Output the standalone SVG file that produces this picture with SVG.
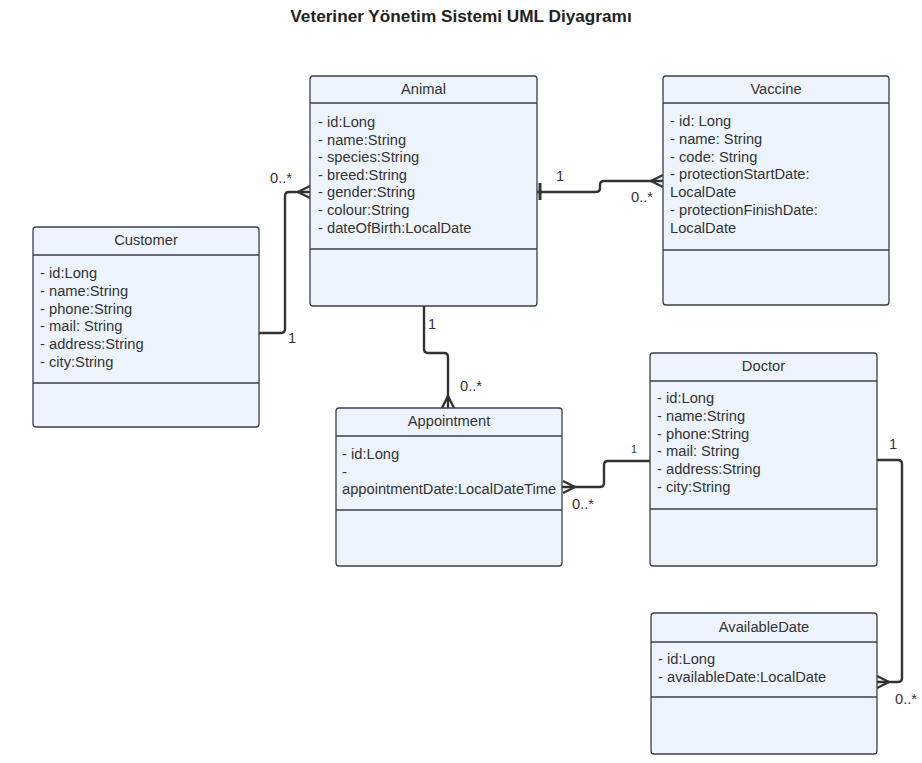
<svg xmlns="http://www.w3.org/2000/svg" width="922" height="763" viewBox="0 0 922 763">
<style>
.box{fill:#EEF4FE;stroke:#3A4049;stroke-width:1.3}
.div{stroke:#3A4049;stroke-width:1.3}
text{font-family:"Liberation Sans",Arial,sans-serif;fill:#333}
.h{font-size:14.7px;text-anchor:middle}
.a{font-size:14.7px}
.t{font-size:17.2px;font-weight:bold;text-anchor:middle;fill:#222}
.c{fill:none;stroke:#333;stroke-width:2.4;stroke-linejoin:round}
.l{font-size:14.7px}
.s{font-size:10.5px}
</style>
<rect width="922" height="763" fill="#fff"/>
<text class="t" x="461" y="22">Veteriner Yönetim Sistemi UML Diyagramı</text>

<g id="connectors">
<path class="c" d="M259,333 H281 Q285,333 285,329 V196 Q285,192 289,192 H310"/>
<path class="c" d="M310,186 L298,192 L310,198"/>
<path class="c" d="M537,192 H596 Q600,192 600,188 V185 Q600,181 604,181 H663"/>
<path class="c" d="M540,183 V200" style="stroke-width:3"/>
<path class="c" d="M663,175 L651,181 L663,187"/>
<path class="c" d="M424,306 V349 Q424,353 428,353 H444 Q448,353 448,357 V408"/>
<path class="c" d="M442,408 L448,396 L454,408"/>
<path class="c" d="M562,487 H600 Q604,487 604,483 V465 Q604,461 608,461 H650"/>
<path class="c" d="M563,481 L575,487 L563,493"/>
<path class="c" d="M877,460 H898 Q902,460 902,464 V678 Q902,682 898,682 H877"/>
<path class="c" d="M877,676 L889,682 L877,688"/>
<text class="l" x="270" y="183">0..*</text>
<text class="l" x="288" y="343">1</text>
<text class="l" x="556" y="181">1</text>
<text class="l" x="631" y="202">0..*</text>
<text class="l" x="428" y="329">1</text>
<text class="l" x="460" y="391">0..*</text>
<text class="s" x="631" y="453">1</text>
<text class="l" x="572" y="509">0..*</text>
<text class="l" x="889" y="449">1</text>
<text class="l" x="895" y="704">0..*</text>
</g>

<g id="animal">
<rect class="box" x="310" y="76" width="227" height="230" rx="3"/>
<line class="div" x1="310" y1="103" x2="537" y2="103"/>
<line class="div" x1="310" y1="249" x2="537" y2="249"/>
<text class="h" x="423.5" y="94">Animal</text>
<text class="a" x="318" y="127">- id:Long</text>
<text class="a" x="318" y="144.6">- name:String</text>
<text class="a" x="318" y="162.2">- species:String</text>
<text class="a" x="318" y="179.8">- breed:String</text>
<text class="a" x="318" y="197.4">- gender:String</text>
<text class="a" x="318" y="215">- colour:String</text>
<text class="a" x="318" y="232.6">- dateOfBirth:LocalDate</text>
</g>

<g id="vaccine">
<rect class="box" x="663" y="76" width="226" height="229" rx="3"/>
<line class="div" x1="663" y1="103" x2="889" y2="103"/>
<line class="div" x1="663" y1="250" x2="889" y2="250"/>
<text class="h" x="776" y="94">Vaccine</text>
<text class="a" x="670" y="126">- id: Long</text>
<text class="a" x="670" y="143.8">- name: String</text>
<text class="a" x="670" y="161.6">- code: String</text>
<text class="a" x="670" y="179.4">- protectionStartDate:</text>
<text class="a" x="670" y="197.2">LocalDate</text>
<text class="a" x="670" y="215">- protectionFinishDate:</text>
<text class="a" x="670" y="232.8">LocalDate</text>
</g>

<g id="customer">
<rect class="box" x="33" y="227" width="226" height="200" rx="3"/>
<line class="div" x1="33" y1="255" x2="259" y2="255"/>
<line class="div" x1="33" y1="383" x2="259" y2="383"/>
<text class="h" x="146" y="245">Customer</text>
<text class="a" x="40" y="278">- id:Long</text>
<text class="a" x="40" y="295.8">- name:String</text>
<text class="a" x="40" y="313.6">- phone:String</text>
<text class="a" x="40" y="331.4">- mail: String</text>
<text class="a" x="40" y="349.2">- address:String</text>
<text class="a" x="40" y="367">- city:String</text>
</g>

<g id="appointment">
<rect class="box" x="336" y="408" width="226" height="158" rx="3"/>
<line class="div" x1="336" y1="436" x2="562" y2="436"/>
<line class="div" x1="336" y1="510" x2="562" y2="510"/>
<text class="h" x="449" y="426">Appointment</text>
<text class="a" x="342" y="459">- id:Long</text>
<text class="a" x="342" y="477">-</text>
<text class="a" x="342" y="494">appointmentDate:LocalDateTime</text>
</g>

<g id="doctor">
<rect class="box" x="650" y="353" width="227" height="213" rx="3"/>
<line class="div" x1="650" y1="381" x2="877" y2="381"/>
<line class="div" x1="650" y1="509" x2="877" y2="509"/>
<text class="h" x="763.5" y="371">Doctor</text>
<text class="a" x="657" y="403">- id:Long</text>
<text class="a" x="657" y="420.8">- name:String</text>
<text class="a" x="657" y="438.6">- phone:String</text>
<text class="a" x="657" y="456.4">- mail: String</text>
<text class="a" x="657" y="474.2">- address:String</text>
<text class="a" x="657" y="492">- city:String</text>
</g>

<g id="availabledate">
<rect class="box" x="651" y="613" width="226" height="141" rx="3"/>
<line class="div" x1="651" y1="642" x2="877" y2="642"/>
<line class="div" x1="651" y1="697" x2="877" y2="697"/>
<text class="h" x="764" y="632">AvailableDate</text>
<text class="a" x="658" y="664">- id:Long</text>
<text class="a" x="658" y="682">- availableDate:LocalDate</text>
</g>
</svg>
